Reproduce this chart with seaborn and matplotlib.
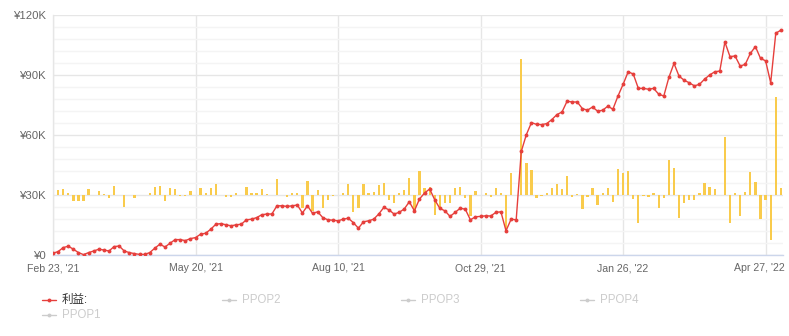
import numpy as np
import pandas as pd
import matplotlib
matplotlib.use("Agg")
import matplotlib.pyplot as plt
import matplotlib.transforms as mtransforms
import seaborn as sns
from matplotlib.lines import Line2D
from matplotlib.ticker import FuncFormatter, MultipleLocator, FixedLocator

# ---- data (values in thousands of yen) ----
profit_k = [0.9, 1.7, 3.7, 4.4, 2.9, 1.2, 0.2, 1.2, 2.0, 2.9,
            2.5, 2.0, 4.2, 4.5, 2.0, 1.2, 0.7, 0.3, 0.3, 1.2,
            3.4, 5.4, 4.0, 5.9, 7.7, 7.7, 7.2, 8.2, 8.7, 10.4,
            10.9, 12.9, 15.4, 15.7, 15.1, 14.6, 15.1, 15.4, 17.6, 17.9,
            18.7, 20.1, 20.5, 20.5, 24.6, 24.6, 24.3, 24.6, 25.0, 21.0,
            24.6, 20.8, 21.6, 18.7, 17.6, 17.4, 17.1, 17.9, 18.4, 16.2,
            13.4, 16.6, 17.1, 17.9, 20.5, 23.8, 22.6, 20.5, 21.3, 23.0,
            26.6, 22.1, 28.0, 31.0, 33.0, 27.6, 23.3, 22.1, 19.3, 21.3,
            23.4, 22.9, 17.6, 19.1, 19.3, 19.6, 19.5, 21.3, 21.6, 12.1,
            17.9, 17.6, 51.8, 60.2, 66.2, 65.3, 65.2, 65.7, 67.7, 70.2,
            71.5, 76.9, 76.5, 76.5, 73.2, 72.4, 74.0, 71.9, 72.4, 74.4,
            72.9, 79.5, 85.3, 91.6, 90.5, 83.3, 83.3, 82.9, 83.3, 80.4,
            79.5, 88.8, 95.8, 89.4, 87.4, 86.1, 84.6, 85.3, 87.9, 90.0,
            91.6, 92.0, 106.5, 99.2, 99.5, 94.5, 95.3, 100.8, 104.2, 98.3,
            97.1, 86.1, 110.9, 112.4]

change_k = [2.5, 2.5, 2.8, 0.8, -2.8, -2.8, -2.8, 2.8, 0.2, 2.2,
            0.3, -1.7, 4.5, 0.2, -5.9, 0.0, -1.3, 0.2, 0.2, 1.2,
            4.2, 4.5, -2.8, 3.7, 2.8, -0.3, -0.5, 2.0, 0.0, 3.4,
            0.8, 3.4, 5.4, 0.0, -0.8, -0.8, 0.8, 0.0, 3.9, 0.8,
            1.2, 3.0, 0.3, 0.0, 8.0, 0.0, -0.8, 0.8, 0.8, -6.7,
            7.0, -8.0, 2.5, -6.7, -2.5, -0.3, 0.0, 1.2, 5.5, -8.4,
            -6.4, 5.5, 0.8, 1.7, 5.0, 5.9, -2.5, -4.2, 1.2, 2.5,
            8.4, -8.0, 12.2, 3.4, 4.2, -10.0, -5.9, -4.2, -4.2, 3.4,
            4.2, -1.7, -10.5, 2.2, 0.0, 0.8, -0.8, 3.4, 0.8, -17.6,
            10.9, 0.0, 68.0, 15.9, 12.6, -1.7, -0.3, 0.8, 3.4, 5.5,
            2.8, 9.7, -0.8, 0.3, -7.2, -0.8, 3.4, -5.0, 1.2, 3.7,
            -3.4, 12.9, 10.9, 12.2, -2.0, -14.2, -0.3, -0.8, 1.2, -6.4,
            -1.7, 17.6, 13.4, -11.7, -4.2, -2.5, -2.5, 0.8, 5.9, 3.9,
            2.8, 0.2, 29.0, -14.2, 0.8, -10.6, 1.7, 11.4, 6.4, -12.1,
            -2.5, -22.3, 49.1, 3.4]

tick_positions = [0, 28, 56, 84, 112, 140]
tick_labels = ["Feb 23, '21", "May 20, '21", "Aug 10, '21",
               "Oct 29, '21", "Jan 26, '22", "Apr 27, '22"]
legend_names = ["利益:", "PPOP2", "PPOP3", "PPOP4", "PPOP1"]

RED = "#e63f3c"
YELLOW = "#f9cb4c"
INACTIVE = "#cccccc"
BAR_BASE = 30000

n = len(profit_k)
df = pd.DataFrame({
    "idx": np.arange(n),
    "profit": np.array(profit_k) * 1000,
    "change": np.array(change_k) * 1000,
})

sns.set_theme(style="white")
plt.rcParams["font.family"] = ["Liberation Sans", "Noto Sans CJK SC", "DejaVu Sans"]

W, H = 789, 336
fig = plt.figure(figsize=(W / 100, H / 100), dpi=100)
fig.patch.set_facecolor("white")
L, R, T, B = 53, 783, 15, 255
ax = fig.add_axes([L / W, 1 - B / H, (R - L) / W, (B - T) / H])

sns.barplot(data=df, x="idx", y="change", ax=ax, color=YELLOW, saturation=1,
            width=0.45, native_scale=True, bottom=BAR_BASE, zorder=2,
            linewidth=0, errorbar=None)
sns.lineplot(data=df, x="idx", y="profit", ax=ax, color=RED, linewidth=1.0,
             marker="o", markersize=2.8, markeredgewidth=0, zorder=3)

ax.set_xlim(0, (R - L) / 5.09)
ax.set_ylim(0, 120000)
ax.set_xlabel("")
ax.set_ylabel("")

ax.yaxis.set_major_locator(MultipleLocator(30000))
ax.yaxis.set_minor_locator(MultipleLocator(6000))
ax.yaxis.set_major_formatter(FuncFormatter(
    lambda v, p: "¥0" if v == 0 else f"¥{int(round(v / 1000))}K"))
ax.xaxis.set_major_locator(FixedLocator(tick_positions))
ax.set_xticklabels(tick_labels)

ax.set_axisbelow(True)
ax.grid(which="major", axis="y", color="#e6e6e6", linewidth=1)
ax.grid(which="minor", axis="y", color="#f4f4f4", linewidth=1)
ax.grid(which="major", axis="x", color="#e6e6e6", linewidth=1)

ax.tick_params(axis="y", which="both", length=0, labelsize=8.2,
               labelcolor="#666666", pad=5)
ax.tick_params(axis="x", which="both", length=0, labelsize=7.6,
               labelcolor="#666666", pad=6)

# keep the last date label inside the canvas (shift left like the reference)
last = ax.get_xticklabels()[-1]
last.set_transform(last.get_transform() +
                   mtransforms.ScaledTranslation(-6 / 100, 0, fig.dpi_scale_trans))

for s in ["top", "right"]:
    ax.spines[s].set_visible(False)
ax.spines["left"].set_color("#e6e6e6")
ax.spines["left"].set_linewidth(1)
ax.spines["bottom"].set_color("#ccd6eb")
ax.spines["bottom"].set_linewidth(1)

# ---- legend (manual, echarts style) ----
legend_pos = [(42, 300), (222, 300), (401, 300), (580, 300), (42, 315)]
for i, (name, (px, py)) in enumerate(zip(legend_names, legend_pos)):
    active = i == 0
    col = RED if active else INACTIVE
    yf = 1 - py / H
    fig.add_artist(Line2D([px / W, (px + 14) / W], [yf, yf], color=col,
                          linewidth=1.0, transform=fig.transFigure))
    fig.add_artist(Line2D([(px + 7) / W], [yf], color=col, marker="o",
                          markersize=2.8, markeredgewidth=0,
                          transform=fig.transFigure))
    fig.text((px + 20) / W, yf, name, fontsize=8.3, va="center", ha="left",
             color="#333333" if active else INACTIVE)

fig.savefig("out.png", dpi=100, facecolor="white")
